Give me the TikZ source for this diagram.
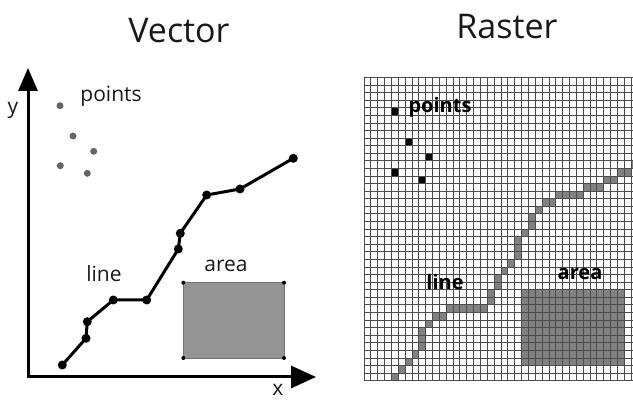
\documentclass[tikz,border=0pt]{standalone}
\usepackage{fontspec}
\setmainfont{Open Sans}
\usetikzlibrary{arrows.meta}
\begin{document}
\begin{tikzpicture}[x=1pt,y=-1pt,
  lbl/.style={font=\fontsize{21}{24}\selectfont, inner sep=0pt, text=black!90},
  rlbl/.style={font=\bfseries\fontsize{20}{23}\selectfont, inner sep=0pt},
  ttl/.style={font=\fontsize{34}{40}\selectfont, inner sep=0pt, text=black!90},
  vdot/.style={circle, fill=black, inner sep=0pt, minimum size=9pt},
  pdot/.style={circle, fill=black!60, inner sep=0pt, minimum size=7pt},
  cdot/.style={circle, fill=black, inner sep=0pt, minimum size=4pt},
  axis/.style={line width=3pt, {Triangle[length=23pt,width=19pt]}-{Triangle[length=25pt,width=22pt]}},
  pline/.style={line width=3pt, line join=round},
  rcell/.style={fill=black!50},
  rpt/.style={fill=black},
  gridline/.style={draw=black!70, line width=0.9pt}]
\useasboundingbox (0,0) rectangle (633,401);
\def\cw{6.85}
\def\ch{7.58}
% titles
\node[ttl] (tv) at (179,31) {Vector};
\node[ttl] (tr) at (507,27) {Raster};
% ---------- vector ----------
\coordinate (ytip) at (28,68);
\coordinate (xtip) at (316,377);
\draw[axis] (ytip) |- (xtip);
\node[lbl] (ylab) at (13,110) {y};
\node[lbl] (xlab) at (278,390) {x};
\node[lbl] (vpts) at (111,96) {points};
\node[lbl] (vline) at (104,274) {line};
\node[lbl] (varea) at (226,266) {area};
\node[pdot] (p1) at (60,105.7) {};
\node[pdot] (p2) at (73,136) {};
\node[pdot] (p3) at (93.7,151.3) {};
\node[pdot] (p4) at (60.3,165.7) {};
\node[pdot] (p5) at (87.3,173.3) {};
\coordinate (v1) at (62.3,365);
\coordinate (v2) at (86,338.3);
\coordinate (v3) at (87.3,321.7);
\coordinate (v4) at (113.3,300);
\coordinate (v5) at (146.7,300);
\coordinate (v6) at (178.3,249);
\coordinate (v7) at (180.3,233.3);
\coordinate (v8) at (206.7,195);
\coordinate (v9) at (240,189);
\coordinate (v10) at (293.3,158.3);
\draw[pline] (v1) -- (v2) -- (v3) -- (v4) -- (v5) -- (v6) -- (v7) -- (v8) -- (v9) -- (v10);
\foreach \v in {v1,v2,v3,v4,v5,v6,v7,v8,v9,v10} \node[vdot] at (\v) {};
\coordinate (a1) at (183.3,282.7);
\coordinate (a2) at (284,282.7);
\coordinate (a3) at (284,358);
\coordinate (a4) at (183.3,358);
\filldraw[fill=black!42, draw=black!55, line width=0.6pt] (a1) -- (a2) -- (a3) -- (a4) -- cycle;
\foreach \a in {a1,a2,a3,a4} \node[cdot] at (\a) {};
% ---------- raster ----------
\begin{scope}
\clip (360,70) rectangle (633,390);
\foreach \i/\j in {4/39,5/38,6/37,7/36,8/35,8/34,8/33,9/32,10/31,11/31,
  12/30,13/30,14/30,15/30,16/30,17/30,18/29,18/28,19/27,19/26,20/25,21/24,
  22/23,22/22,22/21,23/20,24/19,24/18,25/17,26/16,27/16,28/15,29/15,30/15,31/15,
  32/14,33/14,34/14,35/13,36/13,37/12,38/12,39/11}
  \fill[rcell] (364+\i*\cw, 77.5+\j*\ch) rectangle ++(\cw,\ch);
\fill[rcell] (364+23*\cw, 77.5+28*\ch) rectangle (364+38*\cw, 77.5+38*\ch);
\foreach \i/\j in {4/4,6/8,9/10,4/12,8/13}
  \fill[rpt] (364+\i*\cw, 77.5+\j*\ch) rectangle ++(\cw,\ch);
\foreach \i in {0,...,40}
  \draw[gridline] (364+\i*\cw, 77.5) -- (364+\i*\cw, 77.5+40*\ch);
\foreach \j in {0,...,40}
  \draw[gridline] (364, 77.5+\j*\ch) -- (640, 77.5+\j*\ch);
\end{scope}
\node[rlbl] (rpts) at (440,107) {points};
\node[rlbl] (rline) at (445,282) {line};
\node[rlbl] (rarea) at (580,274) {area};
\end{tikzpicture}
\end{document}
